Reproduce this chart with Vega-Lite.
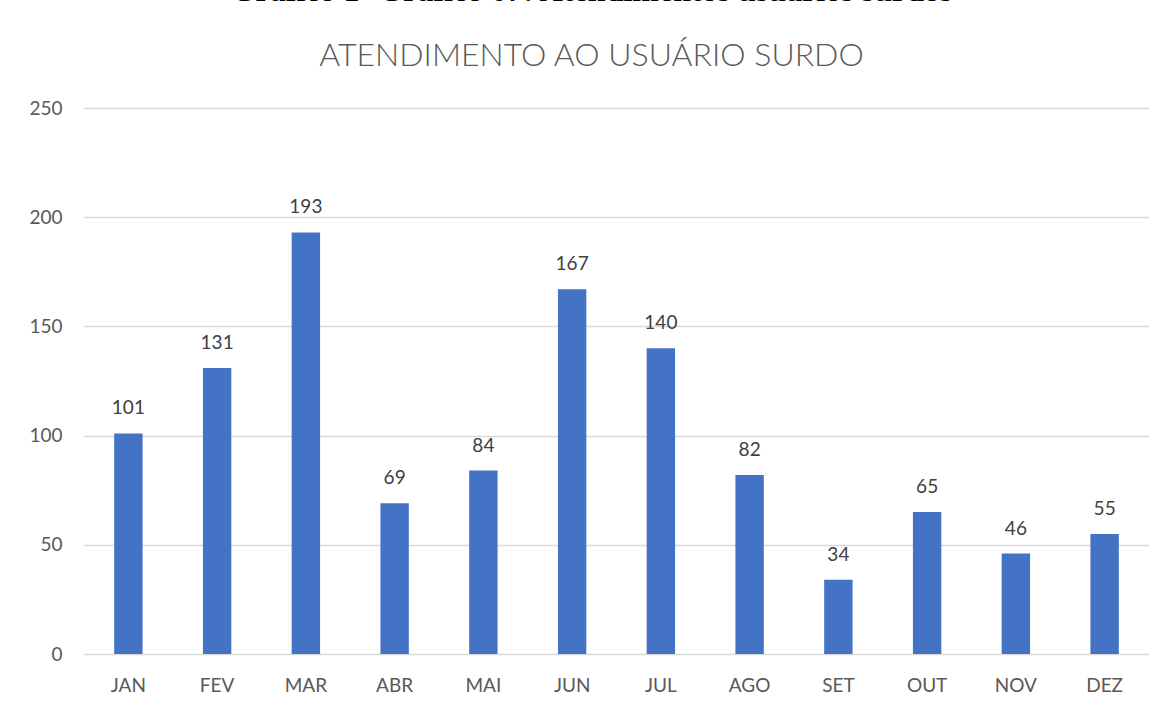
{
  "$schema": "https://vega.github.io/schema/vega-lite/v6.json",
  "width": 1065,
  "height": 546,
  "autosize": {"type": "none"},
  "padding": {"left": 84, "top": 108, "right": 19, "bottom": 54},
  "background": "white",
  "title": {
    "text": "Gráfico 1- Gráfico 07: Atendimentos usuários surdos",
    "subtitle": "ATENDIMENTO AO USUÁRIO SURDO",
    "font": "Liberation Serif",
    "fontSize": 32,
    "fontWeight": "bold",
    "color": "black",
    "subtitleFont": "Lato",
    "subtitleFontSize": 32,
    "subtitleFontWeight": 300,
    "subtitleColor": "#595959",
    "subtitlePadding": 33,
    "anchor": "middle",
    "dx": -25,
    "offset": 26
  },
  "data": {
    "values": [
      {"mes": "JAN", "valor": 101},
      {"mes": "FEV", "valor": 131},
      {"mes": "MAR", "valor": 193},
      {"mes": "ABR", "valor": 69},
      {"mes": "MAI", "valor": 84},
      {"mes": "JUN", "valor": 167},
      {"mes": "JUL", "valor": 140},
      {"mes": "AGO", "valor": 82},
      {"mes": "SET", "valor": 34},
      {"mes": "OUT", "valor": 65},
      {"mes": "NOV", "valor": 46},
      {"mes": "DEZ", "valor": 55}
    ]
  },
  "encoding": {
    "x": {
      "field": "mes",
      "type": "nominal",
      "sort": null,
      "scale": {"paddingInner": 0.68, "paddingOuter": 0.34},
      "axis": {
        "title": null,
        "labelAngle": 0,
        "labelFont": "Lato",
        "labelFontSize": 19,
        "labelColor": "#595959",
        "labelPadding": 22,
        "ticks": false,
        "domain": false
      }
    },
    "y": {
      "field": "valor",
      "type": "quantitative",
      "scale": {"domain": [0, 250]},
      "axis": {
        "title": null,
        "values": [0, 50, 100, 150, 200, 250],
        "labelFont": "Lato",
        "labelFontSize": 19,
        "labelColor": "#595959",
        "labelPadding": 22,
        "ticks": false,
        "domain": false,
        "gridColor": "#d9d9d9",
        "gridWidth": 1.3
      }
    }
  },
  "layer": [
    {"mark": {"type": "bar", "color": "#4472C4"}},
    {
      "mark": {"type": "text", "dy": -25, "font": "Lato", "fontSize": 19, "color": "#404040"},
      "encoding": {"text": {"field": "valor", "type": "quantitative"}}
    }
  ],
  "config": {"view": {"stroke": null}}
}
